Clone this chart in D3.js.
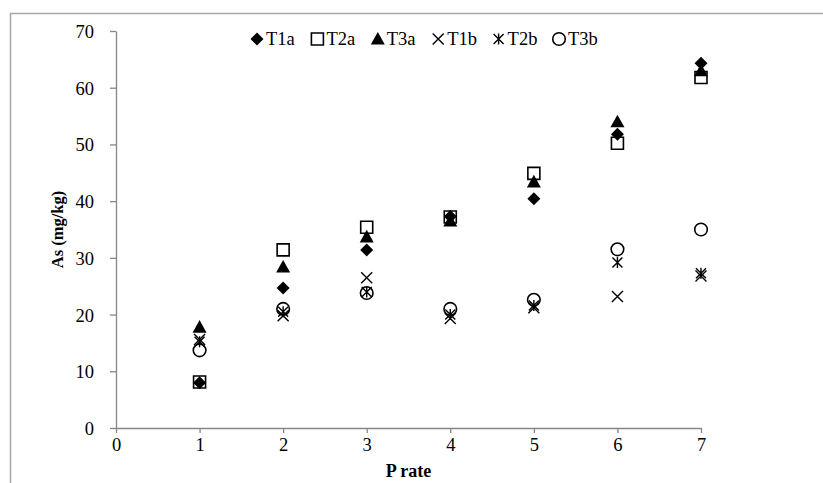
<!DOCTYPE html>
<html>
<head>
<meta charset="utf-8">
<script src="https://cdn.jsdelivr.net/npm/d3@7"></script>
<style>
  body { margin: 0; background: #fff; }
  text { font-family: "Liberation Serif", "Times New Roman", serif; fill: #000; }
</style>
</head>
<body>
<div id="graph"></div>
<script>
// P rate on the x axis
var pRate = [1, 2, 3, 4, 5, 6, 7];

// As concentration (mg/kg) for each treatment
var t1a = [8.0, 24.7, 31.4, 37.3, 40.4, 51.8, 64.3];
var t2a = [8.1, 31.4, 35.4, 37.2, 44.9, 50.2, 61.8];
var t3a = [17.8, 28.4, 33.7, 36.5, 43.4, 54.0, 63.0];
var t1b = [15.6, 19.8, 26.5, 19.3, 21.2, 23.2, 26.8];
var t2b = [15.2, 20.5, 24.0, 20.0, 21.6, 29.2, 27.3];
var t3b = [13.7, 21.0, 23.8, 21.0, 22.6, 31.5, 35.0];

var seriesNames = ["T1a", "T2a", "T3a", "T1b", "T2b", "T3b"];
var xTicks = [0, 1, 2, 3, 4, 5, 6, 7];
var yTicks = [0, 10, 20, 30, 40, 50, 60, 70];

window.onload = start;

function start() {
    var width = 823;
    var height = 483;

    var svg = d3.select("#graph")
        .append("svg")
        .attr("width", width)
        .attr("height", height);

    // outer frame (only left and top visible in the picture)
    svg.append("path")
        .attr("d", "M10.5,483 L10.5,13.5 L823,13.5")
        .attr("fill", "none")
        .attr("stroke", "#a6a6a6")
        .attr("stroke-width", 1.5);

    var x = d3.scaleLinear().domain([0, 7]).range([116, 701]);
    var y = d3.scaleLinear().domain([0, 70]).range([428, 31]);

    // axes
    var xAxis = svg.append("g")
        .attr("transform", "translate(0," + y(0) + ")")
        .call(d3.axisBottom(x).tickValues(xTicks).tickFormat(d3.format("d"))
            .tickSize(5).tickSizeOuter(0).tickPadding(5));
    var yAxis = svg.append("g")
        .attr("transform", "translate(" + x(0) + ",0)")
        .call(d3.axisLeft(y).tickValues(yTicks).tickFormat(d3.format("d"))
            .tickSize(6).tickSizeOuter(0).tickPadding(16));

    [xAxis, yAxis].forEach(function (a) {
        a.select(".domain").attr("stroke", "#868686").attr("stroke-width", 1.3);
        a.selectAll(".tick line").attr("stroke", "#868686").attr("stroke-width", 1.3);
        a.selectAll(".tick text")
            .attr("font-family", "Liberation Serif")
            .attr("font-size", 18.5)
            .attr("fill", "#000");
    });
    yAxis.selectAll(".tick text").attr("dy", "0.35em");

    // axis titles
    svg.append("text")
        .attr("x", (x(0) + x(7)) / 2)
        .attr("y", 477)
        .attr("text-anchor", "middle")
        .attr("font-size", 18)
        .attr("font-weight", "bold")
        .text("P rate");

    svg.append("text")
        .attr("transform", "translate(63," + y(35) + ") rotate(-90)")
        .attr("text-anchor", "middle")
        .attr("font-size", 16.5)
        .attr("font-weight", "bold")
        .text("As (mg/kg)");

    // marker shapes
    function diamond(s) {
        return "M0," + (-s) + "L" + s + ",0L0," + s + "L" + (-s) + ",0Z";
    }
    function square(s) {
        return "M" + (-s) + "," + (-s) + "H" + s + "V" + s + "H" + (-s) + "Z";
    }
    function triangle(s) {
        return "M0," + (-s) + "L" + s + "," + (s * 0.8) + "L" + (-s) + "," + (s * 0.8) + "Z";
    }
    function cross(s) {
        return "M" + (-s) + "," + (-s) + "L" + s + "," + s + "M" + s + "," + (-s) + "L" + (-s) + "," + s;
    }
    function star(s) {
        return cross(s) + "M0," + (-s * 1.1) + "L0," + (s * 1.1);
    }
    function circle(s) {
        var p = d3.path();
        p.arc(0, 0, s, 0, 2 * Math.PI);
        return p.toString();
    }

    var series = [
        { name: seriesNames[0], values: t1a, shape: diamond, size: 6.5, fill: "#000", stroke: "none", sw: 0 },
        { name: seriesNames[1], values: t2a, shape: square, size: 6, fill: "none", stroke: "#000", sw: 1.6 },
        { name: seriesNames[2], values: t3a, shape: triangle, size: 7, fill: "#000", stroke: "none", sw: 0 },
        { name: seriesNames[3], values: t1b, shape: cross, size: 5.5, fill: "none", stroke: "#000", sw: 1.4 },
        { name: seriesNames[4], values: t2b, shape: star, size: 5, fill: "none", stroke: "#000", sw: 1.4 },
        { name: seriesNames[5], values: t3b, shape: circle, size: 6.3, fill: "none", stroke: "#000", sw: 1.6 }
    ];

    var plot = svg.append("g");
    series.forEach(function (s) {
        plot.append("g")
            .selectAll("path")
            .data(s.values)
            .enter()
            .append("path")
            .attr("transform", function (d, i) { return "translate(" + x(pRate[i]) + "," + y(d) + ")"; })
            .attr("d", s.shape(s.size))
            .attr("fill", s.fill)
            .attr("stroke", s.stroke)
            .attr("stroke-width", s.sw);
    });

    // legend
    var legend = svg.append("g").attr("transform", "translate(257,39)");
    var item = legend.selectAll("g")
        .data(series)
        .enter()
        .append("g")
        .attr("transform", function (d, i) { return "translate(" + (i * 60.4) + ",0)"; });
    item.append("path")
        .attr("d", function (d) { return d.shape(d.size); })
        .attr("fill", function (d) { return d.fill; })
        .attr("stroke", function (d) { return d.stroke; })
        .attr("stroke-width", function (d) { return d.sw; });
    item.append("text")
        .attr("x", 9)
        .attr("dy", "0.35em")
        .attr("font-size", 18.5)
        .text(function (d) { return d.name; });
}
</script>
</body>
</html>
